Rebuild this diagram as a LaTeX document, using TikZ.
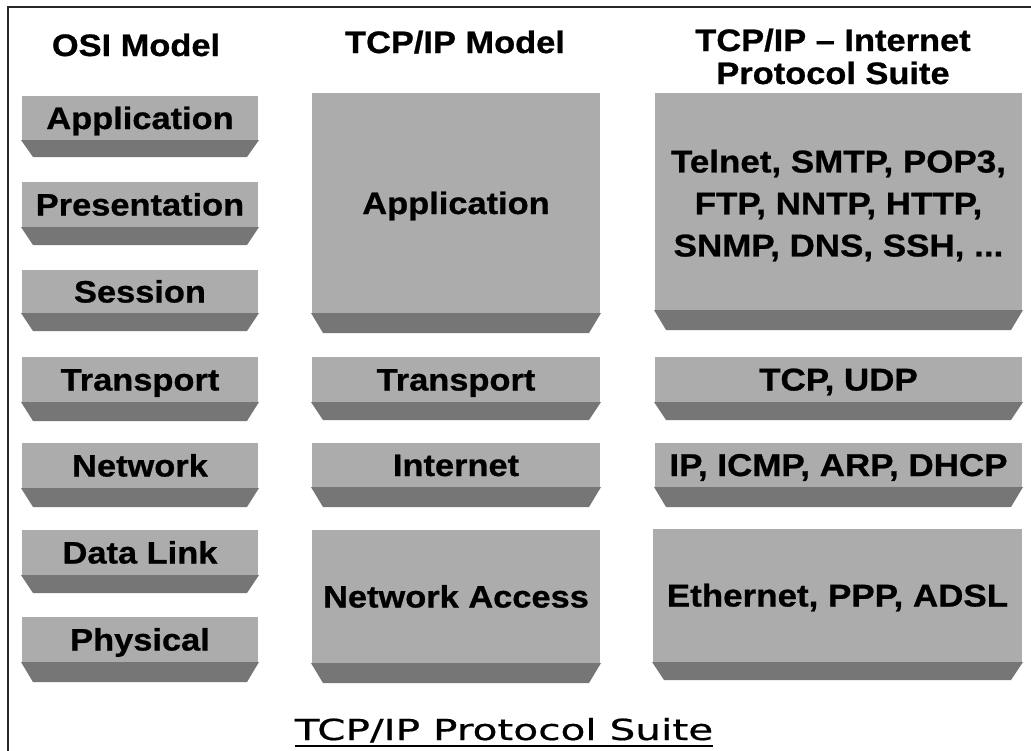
\documentclass[tikz,border=0pt]{standalone}
\usepackage{fontspec}
\newfontfamily\arb{Liberation Sans Bold}[FakeStretch=1.11,FakeBold=0.8]
\newfontfamily\ttl{DejaVu Sans}[FakeStretch=1.4,FakeBold=0.6]
\definecolor{facec}{RGB}{172,172,172}
\definecolor{bevc}{RGB}{118,118,118}
\definecolor{framec}{RGB}{40,40,40}
\tikzset{
  face/.style={fill=facec, draw=none, inner sep=0pt, outer sep=0pt,
    font=\arb\fontsize{31}{31}\selectfont, text height=22pt, text depth=0pt},
  sface/.style={face, font=\arb\fontsize{31.5}{42}\selectfont, text height=22pt},
  bev/.style={fill=bevc, draw=none},
  hdr/.style={font=\arb\fontsize{31}{29}\selectfont, inner sep=0pt, anchor=base},
  mtext/.style={font=\arb\fontsize{31.5}{42}\selectfont, inner sep=0pt, align=center},
  ttltext/.style={font=\ttl\fontsize{29}{29}\selectfont, inner sep=0pt, anchor=base},
  frameline/.style={draw=framec, line width=2pt},
  uline/.style={line width=2.5pt}
}
% #1 style, #2 name, #3 x1, #4 x2, #5 ytop, #6 yface, #7 ybevel, #8 text
\newcommand\blk[8][face]{%
  \node[#1, minimum width={(#4-#3)*1pt}, minimum height={(#6-#5)*1pt}] (#2)
    at ({(#3+#4)/2},{(#5+#6)/2}) {#8};
  \fill[bev] ({#3-1},#6) -- ({#4+1},#6) -- ({#4-11},#7) -- ({#3+11},#7) -- cycle;
}
\begin{document}
\begin{tikzpicture}[x=1pt,y=-1pt]
\useasboundingbox (0,0) rectangle (1031,750);
\fill[white] (0,0) rectangle (1031,750);
% frame
\draw[frameline] (8,752) -- (8,7) -- (1033,7);
% headers
\node[hdr] (h1) at (136,56) {OSI Model};
\node[hdr] (h2) at (455,53) {TCP/IP Model};
\node[hdr] (h3a) at (833,51) {TCP/IP – Internet};
\node[hdr] (h3b) at (833,84) {Protocol Suite};
% OSI column
\blk{osi7}{22}{258}{96}{140}{157}{Application}
\blk{osi6}{22}{258}{182}{227}{245}{Presentation}
\blk{osi5}{22}{258}{270}{313}{331}{Session}
\blk{osi4}{22}{258}{357}{402}{421}{Transport}
\blk{osi3}{22}{258}{443}{488}{507}{Network}
\blk{osi2}{22}{258}{530}{575}{593}{Data Link}
\blk{osi1}{22}{258}{617}{662}{682}{Physical}
% TCP/IP model column
\blk{tcp4}{312}{600}{93}{313}{333}{Application}
\blk{tcp3}{312}{600}{357}{402}{420}{Transport}
\blk{tcp2}{312}{600}{443}{487}{507}{Internet}
\blk{tcp1}{312}{600}{530}{663}{683}{Network Access}
% protocol suite column
\blk[sface]{ps4}{655}{1022}{93}{310}{330}{}
\node[mtext] (ps4t) at ([yshift=-4pt]ps4.center) {Telnet, SMTP, POP3,\\FTP, NNTP, HTTP,\\SNMP, DNS, SSH, ...};
\blk[sface]{ps3}{655}{1022}{357}{402}{420}{TCP, UDP}
\blk[sface]{ps2}{655}{1022}{443}{487}{507}{IP, ICMP, ARP, DHCP}
\blk[sface]{ps1}{653}{1022}{529}{662}{680}{Ethernet, PPP, ADSL}
% title
\node[ttltext] (title) at (504,740) {TCP/IP Protocol Suite};
\draw[uline] ([yshift=-6pt]title.base west) -- ([yshift=-6pt]title.base east);
\end{tikzpicture}
\end{document}
